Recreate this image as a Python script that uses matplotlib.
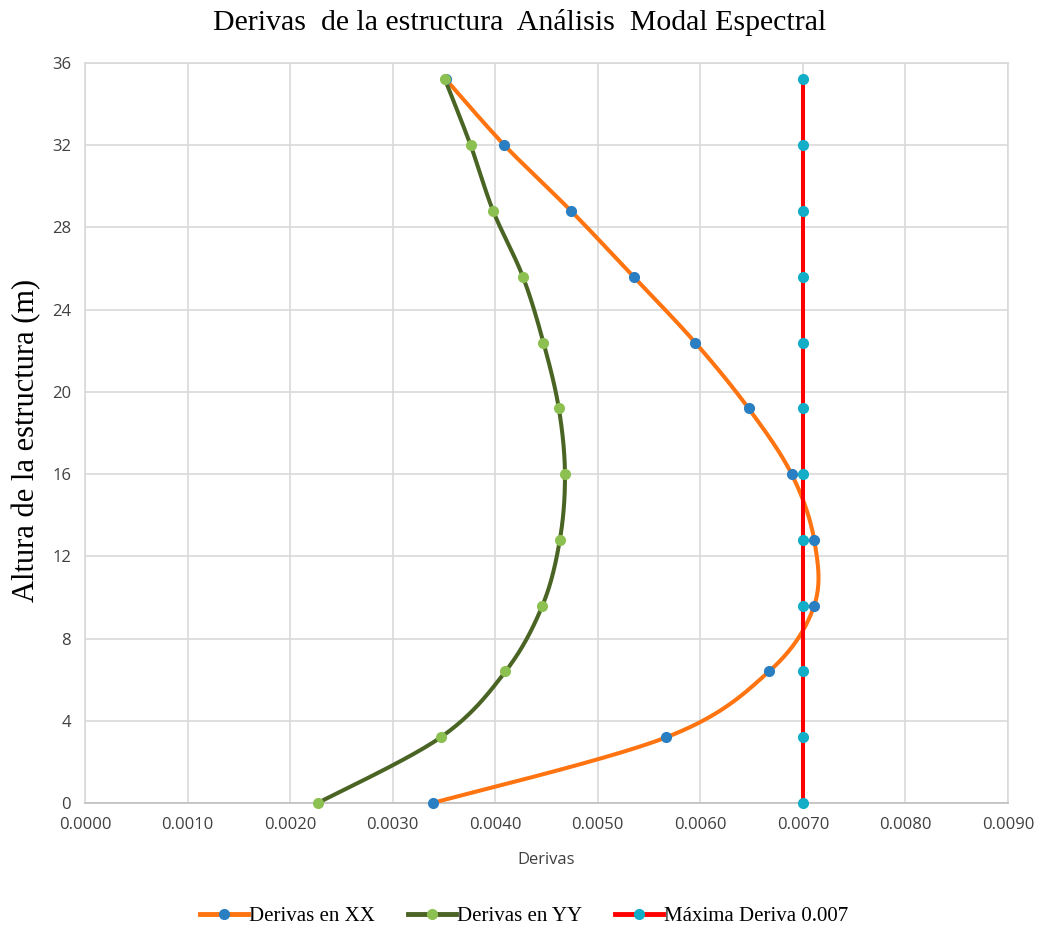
import numpy as np
import matplotlib
matplotlib.use("Agg")
import matplotlib.pyplot as plt
from matplotlib.lines import Line2D

# Alturas de los niveles (m)
alturas = [0.0, 3.2, 6.4, 9.6, 12.8, 16.0, 19.2, 22.4, 25.6, 28.8, 32.0, 35.2]

# Derivas de entrepiso en cada direccion
derivas_xx = [0.00339, 0.00567, 0.00667, 0.00711, 0.00711, 0.00689,
              0.00647, 0.00595, 0.00535, 0.00474, 0.00409, 0.00352]
derivas_yy = [0.00227, 0.00347, 0.00410, 0.00446, 0.00463, 0.00468,
              0.00462, 0.00447, 0.00427, 0.00398, 0.00376, 0.00351]
deriva_max = [0.007] * len(alturas)

x_lim = (0.0, 0.009)
y_lim = (0.0, 36.0)
x_ticks = np.arange(0.0, 0.0091, 0.001)
y_ticks = np.arange(0, 37, 4)


def suavizar(xs, ys, sx, sy, n=40):
    # curva Bezier tipo Catmull-Rom (linea suavizada), calculada en pixeles
    px = np.asarray(xs) * sx
    py = np.asarray(ys) * sy
    pts = np.column_stack([px, py])
    out = [pts[0]]
    m = len(pts)
    for i in range(m - 1):
        p0 = pts[max(i - 1, 0)]
        p1 = pts[i]
        p2 = pts[i + 1]
        p3 = pts[min(i + 2, m - 1)]
        c1 = p1 + (p2 - p0) / 6.0
        c2 = p2 - (p3 - p1) / 6.0
        t = np.linspace(0, 1, n)[1:, None]
        seg = ((1 - t) ** 3) * p1 + 3 * ((1 - t) ** 2) * t * c1 \
            + 3 * (1 - t) * t ** 2 * c2 + t ** 3 * p2
        out.extend(seg)
    out = np.array(out)
    return out[:, 0] / sx, out[:, 1] / sy


fig = plt.figure(figsize=(10.45, 9.32), dpi=100)
ax = fig.add_axes([85 / 1045, 1 - 803 / 932, 923 / 1045, 740 / 932])

# escala de pixeles por unidad para el suavizado
sx = 923 / (x_lim[1] - x_lim[0])
sy = 740 / (y_lim[1] - y_lim[0])

c_xx, m_xx = "#FF7410", "#2A7EC2"
c_yy, m_yy = "#4A6424", "#8CC152"
c_max, m_max = "#FF0000", "#12ADC6"

for vals, lc, mc in [(derivas_xx, c_xx, m_xx), (derivas_yy, c_yy, m_yy),
                     (deriva_max, c_max, m_max)]:
    sxv, syv = suavizar(vals, alturas, sx, sy)
    ax.plot(sxv, syv, color=lc, lw=2.9, solid_capstyle="round", zorder=3)
    ax.plot(vals, alturas, ls="none", marker="o", ms=7, color=mc,
            mec=mc, zorder=4, clip_on=False)

ax.set_xlim(*x_lim)
ax.set_ylim(*y_lim)
ax.set_xticks(x_ticks)
ax.set_yticks(y_ticks)
ax.set_xticklabels([f"{v:.4f}" for v in x_ticks])
ax.set_yticklabels([f"{v:d}" for v in y_ticks])
ax.grid(True, color="#D9D9D9", lw=1.2)
ax.set_axisbelow(True)
for s in ax.spines.values():
    s.set_color("#D9D9D9")
    s.set_linewidth(1.2)
ax.spines["bottom"].set_color("#BFBFBF")
ax.tick_params(length=0, pad=10, labelsize=12, labelcolor="#404040")
for lab in ax.get_xticklabels() + ax.get_yticklabels():
    lab.set_fontfamily("Open Sans")

fig.text(520 / 1045, 1 - 22 / 932, "Derivas  de la estructura  Análisis  Modal Espectral",
         ha="center", va="center", fontsize=21.5, family="Liberation Serif")
fig.text(27 / 1045, 1 - 440 / 932, "Altura de la estructura (m)", rotation=90,
         ha="center", va="center", fontsize=22, family="Liberation Serif")
fig.text(546 / 1045, 1 - 860 / 932, "Derivas", ha="center", va="center",
         fontsize=12, family="Open Sans", color="#404040")

handles = [
    Line2D([], [], color=c_xx, lw=3.5, marker="o", ms=7, mfc=m_xx, mec=m_xx),
    Line2D([], [], color=c_yy, lw=3.5, marker="o", ms=7, mfc=m_yy, mec=m_yy),
    Line2D([], [], color=c_max, lw=3.5, marker="o", ms=7, mfc=m_max, mec=m_max),
]
labels = ["Derivas en XX", "Derivas en YY", "Máxima Deriva 0.007"]
fig.legend(handles, labels, loc="center", bbox_to_anchor=(524 / 1045, 1 - 916 / 932),
           ncol=3, frameon=False, handlelength=2.3, handletextpad=0.05,
           columnspacing=1.6, prop={"family": "Liberation Serif", "size": 15})

fig.savefig("out.png", dpi=100)
